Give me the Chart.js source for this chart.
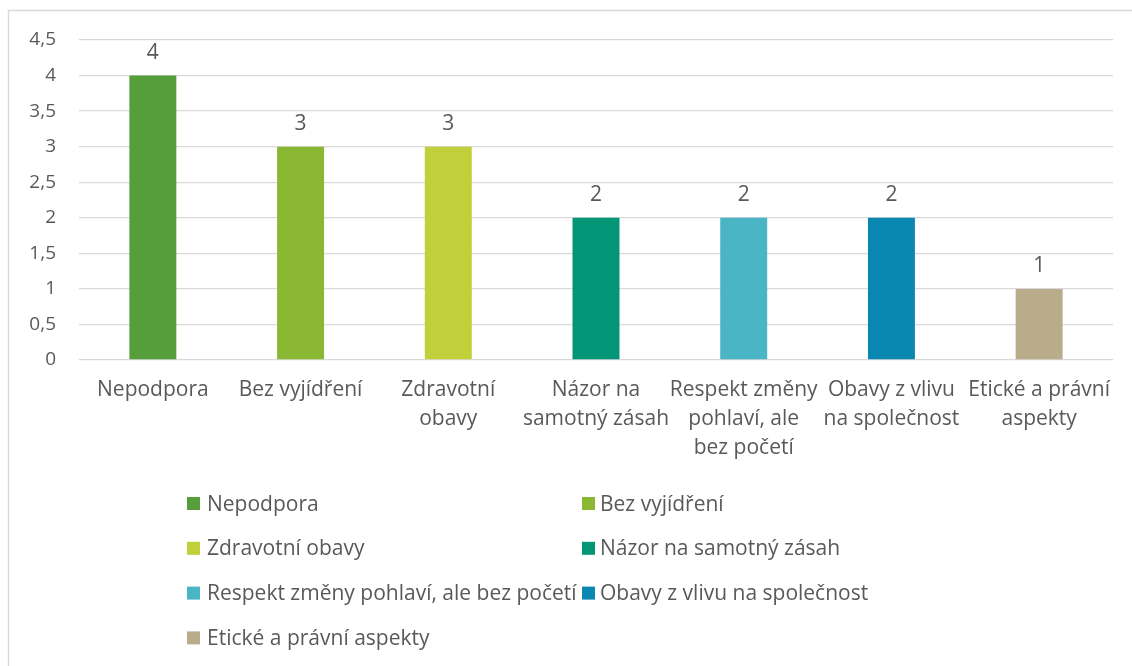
<!DOCTYPE html>
<html>
<head>
<meta charset="utf-8">
<script src="https://cdn.jsdelivr.net/npm/chart.js@4.4.1/dist/chart.umd.min.js"></script>
<style>
html,body{margin:0;padding:0;background:#ffffff;overflow:hidden}
canvas{display:block}
</style>
</head>
<body>
<canvas id="c" width="1132" height="666"></canvas>
<script>
// ---- data ----
const categories = [
  "Nepodpora",
  "Bez vyjídření",
  "Zdravotní obavy",
  "Názor na samotný zásah",
  "Respekt změny pohlaví, ale bez početí",
  "Obavy z vlivu na společnost",
  "Etické a právní aspekty"
];
const tickLabels = [
  ["Nepodpora"],
  ["Bez vyjídření"],
  ["Zdravotní", "obavy"],
  ["Názor na", "samotný zásah"],
  ["Respekt změny", "pohlaví, ale", "bez početí"],
  ["Obavy z vlivu", "na společnost"],
  ["Etické a právní", "aspekty"]
];
const counts = [4, 3, 3, 2, 2, 2, 1];
const barColors = ["#559E3A", "#8AB833", "#C1CF3A", "#029676", "#4AB5C4", "#0A88B2", "#B8AC8A"];
const yMin = 0;
const yMax = 4.5;
const yStep = 0.5;

// ---- style ----
const FONT = "'Open Sans', 'DejaVu Sans', sans-serif";
const TEXT = "#595959";
const GRID = "#D9D9D9";

const framePlugin = {
  id: 'frame',
  beforeDraw(chart) {
    const ctx = chart.ctx;
    ctx.save();
    ctx.strokeStyle = GRID;
    ctx.lineWidth = 1.5;
    ctx.beginPath();
    ctx.moveTo(8.5, 666);
    ctx.lineTo(8.5, 10.5);
    ctx.lineTo(1132, 10.5);
    ctx.stroke();
    ctx.restore();
  }
};

const valueLabelPlugin = {
  id: 'valueLabels',
  afterDatasetsDraw(chart) {
    const ctx = chart.ctx;
    const meta = chart.getDatasetMeta(0);
    const ds = chart.data.datasets[0];
    ctx.save();
    ctx.fillStyle = TEXT;
    ctx.font = "21px " + FONT;
    ctx.textAlign = 'center';
    ctx.textBaseline = 'alphabetic';
    meta.data.forEach((bar, i) => {
      ctx.fillText(String(ds.data[i]), bar.x, bar.y - 17);
    });
    ctx.restore();
  }
};

const legendPlugin = {
  id: 'gridLegend',
  afterDraw(chart, args, opts) {
    const ctx = chart.ctx;
    const ds = chart.data.datasets[0];
    const names = opts.names;
    ctx.save();
    ctx.font = "21px " + FONT;
    ctx.textAlign = 'left';
    ctx.textBaseline = 'alphabetic';
    names.forEach((name, i) => {
      const col = i % 2;
      const row = Math.floor(i / 2);
      const bx = opts.colX[col];
      const cy = opts.rowY0 + row * opts.rowGap;
      ctx.fillStyle = ds.backgroundColor[i];
      ctx.fillRect(bx, cy - 6.5, 13, 13);
      ctx.fillStyle = TEXT;
      ctx.fillText(name, bx + opts.textGap[col], cy + 7);
    });
    ctx.restore();
  }
};

new Chart(document.getElementById('c'), {
  type: 'bar',
  data: {
    labels: tickLabels,
    datasets: [{
      label: 'Počet',
      data: counts,
      backgroundColor: barColors,
      borderWidth: 0,
      categoryPercentage: 1.0,
      barPercentage: 0.318
    }]
  },
  options: {
    responsive: false,
    animation: false,
    devicePixelRatio: 1,
    layout: { padding: { top: 40, right: 19, left: 0, bottom: 0 } },
    plugins: {
      legend: { display: false },
      tooltip: { enabled: false },
      gridLegend: {
        names: categories,
        colX: [187, 582],
        textGap: [20, 18],
        rowY0: 503.5,
        rowGap: 44.8
      }
    },
    scales: {
      x: {
        grid: { display: false, drawTicks: false },
        border: { display: false },
        ticks: {
          color: TEXT,
          font: { family: FONT, size: 21, lineHeight: 1.38 },
          padding: 16,
          maxRotation: 0,
          autoSkip: false
        },
        afterFit(scale) { scale.height = 306; }
      },
      y: {
        min: yMin,
        max: yMax,
        grid: { color: GRID, lineWidth: 1.3, drawTicks: false },
        border: { display: false },
        ticks: {
          stepSize: yStep,
          color: TEXT,
          font: { family: FONT, size: 19 },
          padding: 23,
          callback: (v) => String(v).replace('.', ',')
        },
        afterFit(scale) { scale.width = 79; }
      }
    }
  },
  plugins: [framePlugin, valueLabelPlugin, legendPlugin]
});
</script>
</body>
</html>
